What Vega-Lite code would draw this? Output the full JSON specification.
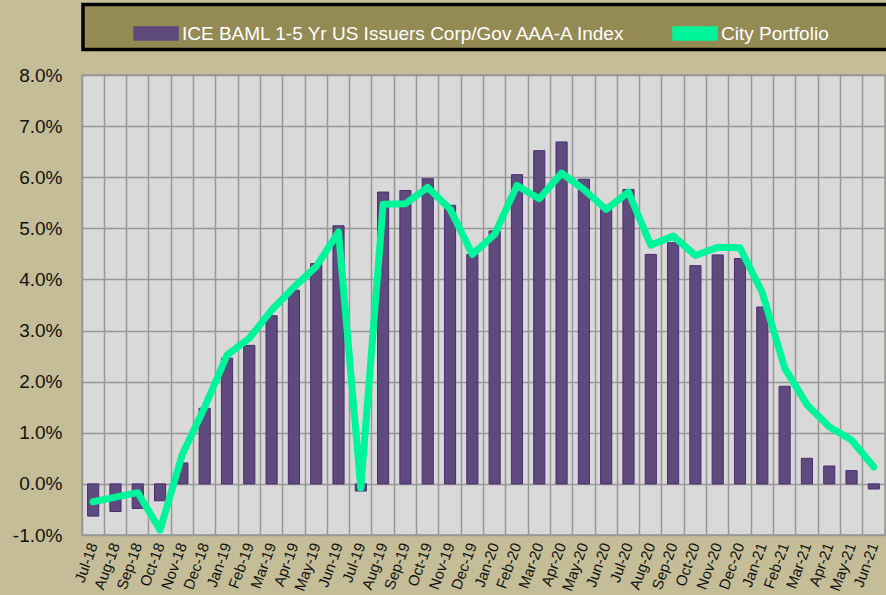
{
  "$schema": "https://vega.github.io/schema/vega-lite/v6.json",
  "autosize": "none",
  "width": 803,
  "height": 460,
  "padding": {"left": 82, "top": 75, "right": 1, "bottom": 60},
  "background": "#C4BD97",
  "config": {
    "view": {"fill": "#D9D9D9", "stroke": "#969696", "strokeWidth": 1.5},
    "font": "Liberation Sans"
  },
  "data": {
    "values": [
      {"month": "Jul-18", "index": -0.63, "city": -0.35},
      {"month": "Aug-18", "index": -0.54, "city": -0.26},
      {"month": "Sep-18", "index": -0.48, "city": -0.17},
      {"month": "Oct-18", "index": -0.33, "city": -0.90},
      {"month": "Nov-18", "index": 0.41, "city": 0.58},
      {"month": "Dec-18", "index": 1.48, "city": 1.50},
      {"month": "Jan-19", "index": 2.46, "city": 2.52},
      {"month": "Feb-19", "index": 2.71, "city": 2.85},
      {"month": "Mar-19", "index": 3.29, "city": 3.40},
      {"month": "Apr-19", "index": 3.79, "city": 3.85},
      {"month": "May-19", "index": 4.31, "city": 4.25},
      {"month": "Jun-19", "index": 5.05, "city": 4.93},
      {"month": "Jul-19", "index": -0.14, "city": -0.08},
      {"month": "Aug-19", "index": 5.71, "city": 5.47},
      {"month": "Sep-19", "index": 5.74, "city": 5.48},
      {"month": "Oct-19", "index": 5.97, "city": 5.80},
      {"month": "Nov-19", "index": 5.45, "city": 5.38},
      {"month": "Dec-19", "index": 4.49, "city": 4.49},
      {"month": "Jan-20", "index": 4.95, "city": 4.88},
      {"month": "Feb-20", "index": 6.05, "city": 5.84},
      {"month": "Mar-20", "index": 6.52, "city": 5.58},
      {"month": "Apr-20", "index": 6.69, "city": 6.08},
      {"month": "May-20", "index": 5.96, "city": 5.76},
      {"month": "Jun-20", "index": 5.37, "city": 5.37},
      {"month": "Jul-20", "index": 5.76, "city": 5.71},
      {"month": "Aug-20", "index": 4.49, "city": 4.67},
      {"month": "Sep-20", "index": 4.72, "city": 4.85},
      {"month": "Oct-20", "index": 4.27, "city": 4.47},
      {"month": "Nov-20", "index": 4.48, "city": 4.63},
      {"month": "Dec-20", "index": 4.41, "city": 4.62},
      {"month": "Jan-21", "index": 3.46, "city": 3.74},
      {"month": "Feb-21", "index": 1.91, "city": 2.27},
      {"month": "Mar-21", "index": 0.50, "city": 1.55},
      {"month": "Apr-21", "index": 0.35, "city": 1.12},
      {"month": "May-21", "index": 0.26, "city": 0.86},
      {"month": "Jun-21", "index": -0.10, "city": 0.33}
    ]
  },
  "encoding": {
    "x": {
      "field": "month",
      "type": "ordinal",
      "sort": null,
      "scale": {"paddingInner": 0, "paddingOuter": 0},
      "axis": {
        "title": null,
        "domain": false,
        "ticks": false,
        "grid": true,
        "bandPosition": 0,
        "gridColor": "#969696",
        "gridWidth": 1.5,
        "labelAngle": -70,
        "labelAlign": "right",
        "labelBaseline": "middle",
        "labelFontSize": 15,
        "labelColor": "#111111",
        "labelPadding": 8
      }
    }
  },
  "layer": [
    {
      "mark": {"type": "bar", "width": {"band": 0.5}, "stroke": "#4B2C72", "strokeWidth": 1},
      "encoding": {
        "y": {
          "field": "index",
          "type": "quantitative",
          "scale": {"domain": [-1, 8], "nice": false},
          "axis": {
            "title": null,
            "values": [-1, 0, 1, 2, 3, 4, 5, 6, 7, 8],
            "labelExpr": "(datum.value < 0 ? '-' : '') + format(abs(datum.value), '.1f') + '%'",
            "domain": false,
            "ticks": false,
            "gridColor": "#969696",
            "gridWidth": 1.5,
            "labelFontSize": 19,
            "labelColor": "#111111",
            "labelPadding": 20
          }
        },
        "color": {
          "datum": "ICE BAML 1-5 Yr US Issuers Corp/Gov AAA-A Index",
          "scale": {
            "domain": ["ICE BAML 1-5 Yr US Issuers Corp/Gov AAA-A Index", "City Portfolio"],
            "range": ["#5E4A7D", "#00F59B"]
          },
          "legend": {
            "title": "\u00a0",
            "titleOrient": "right",
            "titlePadding": 60,
            "titleFontSize": 10,
            "orient": "none",
            "legendX": 1,
            "legendY": -70.5,
            "direction": "horizontal",
            "columns": 2,
            "padding": 6,
            "symbolOffset": 44,
            "symbolSize": 1936,
            "symbolType": "M-1,-0.3H1V0.3H-1Z",
            "labelOffset": 3,
            "labelFontSize": 19,
            "labelColor": "#FFFFFF",
            "labelLimit": 600,
            "columnPadding": 1,
            "fillColor": "#948A54",
            "strokeColor": "#000000",
            "encode": {
              "legend": {"update": {"strokeWidth": {"value": 3.5}}}
            }
          }
        }
      }
    },
    {
      "mark": {"type": "line", "strokeWidth": 7, "strokeJoin": "round", "strokeCap": "round"},
      "encoding": {
        "y": {"field": "city", "type": "quantitative"},
        "color": {
          "datum": "City Portfolio",
          "legend": {
            "title": "\u00a0",
            "titleOrient": "right",
            "titlePadding": 60,
            "titleFontSize": 10,
            "orient": "none",
            "legendX": 1,
            "legendY": -70.5,
            "direction": "horizontal",
            "columns": 2,
            "padding": 6,
            "symbolOffset": 44,
            "symbolSize": 1936,
            "symbolType": "M-1,-0.3H1V0.3H-1Z",
            "labelOffset": 3,
            "labelFontSize": 19,
            "labelColor": "#FFFFFF",
            "labelLimit": 600,
            "columnPadding": 1,
            "fillColor": "#948A54",
            "strokeColor": "#000000",
            "encode": {
              "legend": {"update": {"strokeWidth": {"value": 3.5}}}
            }
          }
        }
      }
    }
  ]
}
